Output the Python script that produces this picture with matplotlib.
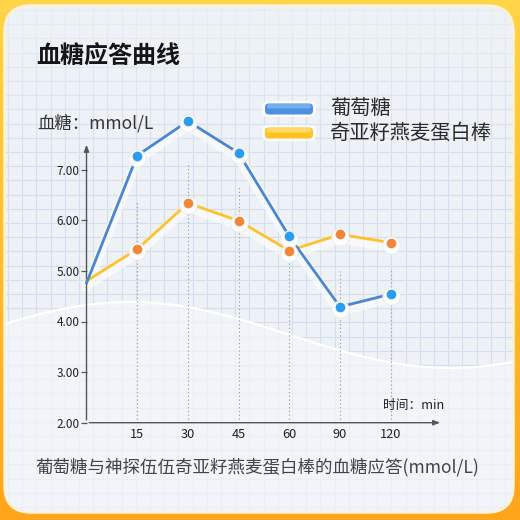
import numpy as np
import matplotlib
matplotlib.use('Agg')
import matplotlib.pyplot as plt
from matplotlib.patches import FancyBboxPatch
from matplotlib import transforms

plt.rcParams['font.family'] = ['Noto Sans CJK SC', 'DejaVu Sans']

# data
times = ['0', '15', '30', '45', '60', '90', '120']
glucose = [4.76, 7.28, 7.96, 7.33, 5.68, 4.29, 4.54]
oat_bar = [4.80, 5.43, 6.34, 5.99, 5.40, 5.72, 5.56]
y_ticks = [2, 3, 4, 5, 6, 7]
series_names = ['葡萄糖', '奇亚籽燕麦蛋白棒']

blue_line = '#4a86d2'
blue_dot = '#2a9df0'
orange_line = '#ffc12a'
orange_dot = '#f2873a'

fig = plt.figure(figsize=(5.2, 5.2), dpi=100)

# ---- background in pixel coordinates ----
bg = fig.add_axes([0, 0, 1, 1])
bg.set_xlim(0, 520)
bg.set_ylim(520, 0)
bg.axis('off')

grad = np.linspace(0, 1, 256)[:, None]
cmap = matplotlib.colors.LinearSegmentedColormap.from_list('frame', ['#ffd54a', '#ffbd2e', '#ffa51c'])
bg.imshow(grad, extent=(0, 520, 520, 0), cmap=cmap, aspect='auto', zorder=0)

card = FancyBboxPatch((5, 6), 508, 506, boxstyle='round,pad=0,rounding_size=26',
                      facecolor='#eef2f7', edgecolor='#fff3d6', lw=2.5, zorder=1)
bg.add_patch(card)

# grid paper
step = 14.2
for gx in np.arange(8, 512, step):
    bg.plot([gx, gx], [8, 510], color='#d3dfed', lw=0.8, zorder=2, clip_path=card)
for gy in np.arange(10, 512, step):
    bg.plot([6, 512], [gy, gy], color='#d3dfed', lw=0.8, zorder=2, clip_path=card)

# soft fade of the grid towards the top
fade_img = np.ones((256, 1, 4))
fade_img[:, 0, :3] = matplotlib.colors.to_rgb('#eef2f7')
fade_img[:, 0, 3] = np.linspace(0.75, 0, 256)
im = bg.imshow(fade_img, extent=(5, 513, 170, 6), aspect='auto', zorder=2.5)
im.set_clip_path(card)

# lighter wave region below
wx = np.linspace(0, 520, 300)
wy = 335 - 33 * np.cos(2 * np.pi * (wx - 130) / 640)
fade = bg.fill_between(wx, wy, 520, color='#f3f5f9', alpha=0.72, zorder=3, lw=0)
fade.set_clip_path(card)
wl, = bg.plot(wx, wy, color='white', lw=1.6, zorder=3)
wl.set_clip_path(card)

# title and labels
bg.text(36, 57, '血糖应答曲线', fontsize=17.3, fontweight='bold', color='#151515',
        va='center', ha='left', zorder=10)
bg.text(37, 123, '血糖：mmol/L', fontsize=12.5, color='#333333', va='center', ha='left', zorder=10)
bg.text(383, 405, '时间：min', fontsize=9.2, color='#222222', va='center', ha='left', zorder=10)
bg.text(35, 467, '葡萄糖与神探伍伍奇亚籽燕麦蛋白棒的血糖应答(mmol/L)', fontsize=12.6,
        color='#444444', va='center', ha='left', zorder=10)

# legend
for yy, c1, c2, name in [(109, '#4f8fe0', '#7db6f2', series_names[0]),
                          (133, '#ffc21f', '#ffe07a', series_names[1])]:
    bg.add_patch(FancyBboxPatch((262, yy - 8), 54, 16, boxstyle='round,pad=0,rounding_size=6',
                                facecolor='white', edgecolor='none', alpha=0.8, zorder=8))
    bg.add_patch(FancyBboxPatch((265, yy - 5.5), 48, 11, boxstyle='round,pad=0,rounding_size=4',
                                facecolor=c1, edgecolor='none', zorder=9))
    bg.add_patch(FancyBboxPatch((267, yy - 5), 44, 4.5, boxstyle='round,pad=0,rounding_size=2',
                                facecolor=c2, edgecolor='none', alpha=0.8, zorder=9))
    bg.text(330, yy, name, fontsize=14.6, color='#2a2a2a', va='center', ha='left', zorder=10)

# ---- data axes ----
px_per_unit = 50.6
y0_px = 422.7
ytop = 8.2
left = 86.5 / 520
right = 443 / 520
bottom = 1 - y0_px / 520
top = 1 - (y0_px - (ytop - 2) * px_per_unit) / 520
ax = fig.add_axes([left, bottom, right - left, top - bottom])
ax.patch.set_alpha(0)
ax.set_zorder(5)
ax.set_xlim(0, (443 - 86.5) / 50.7)
ax.set_ylim(2, ytop)
for s in ax.spines.values():
    s.set_visible(False)

xs = np.arange(len(times))

# axes with arrows
ax.annotate('', xy=(0, 7.55), xytext=(0, 2), annotation_clip=False,
            arrowprops=dict(arrowstyle='-|>,head_length=0.4,head_width=0.15', color='#555555', lw=1))
ax.annotate('', xy=(ax.get_xlim()[1], 2), xytext=(0, 2), annotation_clip=False,
            arrowprops=dict(arrowstyle='-|>,head_length=0.4,head_width=0.15', color='#555555', lw=1))

ax.set_yticks(y_ticks)
ax.set_yticklabels(['%.2f' % v for v in y_ticks])
ax.tick_params(axis='y', direction='out', length=4, width=0.9, color='#555555',
               labelsize=8.5, labelcolor='#222222', pad=1)
ax.set_xticks(xs[1:])
ax.set_xticklabels(times[1:])
ax.tick_params(axis='x', length=0, labelsize=9.2, labelcolor='#222222', pad=4)

# dotted guides
for i in xs[1:]:
    ax.plot([i, i], [2, (glucose[i] + oat_bar[i]) / 2], color='#9aa3ad', lw=0.8,
            ls=(0, (1.2, 2.2)), zorder=1)

shadow = transforms.offset_copy(ax.transData, fig=fig, x=0, y=-3, units='points')
halo = transforms.offset_copy(ax.transData, fig=fig, x=0, y=-1.5, units='points')

for vals, lc, dc in [(oat_bar, orange_line, orange_dot), (glucose, blue_line, blue_dot)]:
    ax.plot(xs, vals, color='white', lw=7, alpha=0.6, transform=shadow,
            solid_capstyle='round', zorder=2, clip_on=False)
    ax.plot(xs, vals, color=lc, lw=2, zorder=3, clip_on=False)
    ax.plot(xs[1:], vals[1:], 'o', color='white', ms=12.5, alpha=0.95, mec='#e6e9ee',
            mew=0.6, transform=halo, zorder=4, clip_on=False)
    ax.plot(xs[1:], vals[1:], 'o', color=dc, ms=7, mec='none', zorder=5, clip_on=False)

fig.savefig('out.png', dpi=100)
